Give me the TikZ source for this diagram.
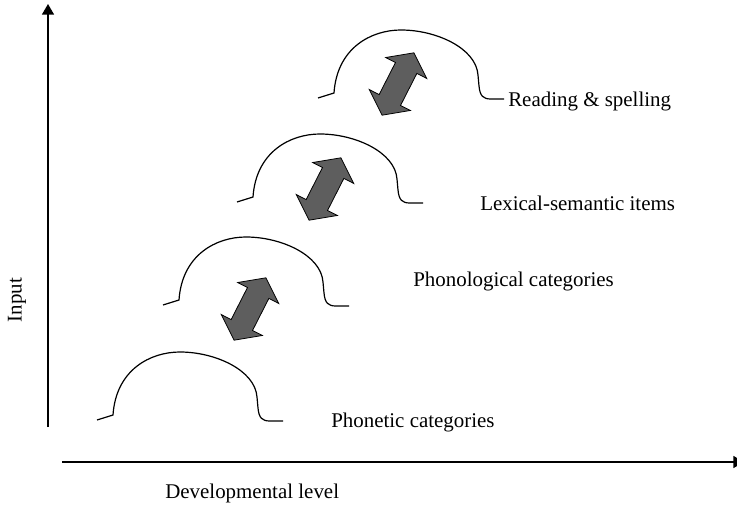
\documentclass[tikz,border=0pt]{standalone}
\usepackage{fontspec}
\setmainfont{Liberation Serif}
\usetikzlibrary{arrows.meta,calc}
\definecolor{ArrowClr}{rgb}{0.37,0.37,0.37}

\tikzset{
  hump/.pic={
    \draw[line width=0.9pt] (0,0) -- (16,-5) .. controls (19,-50) and (53,-68) .. (83,-68)
      .. controls (118,-68) and (158,-50) .. (160,-23) -- (161,-12)
      .. controls (162,-2) and (165,1) .. (173,1) -- (186,1);
  },
  twoway/.pic={
    \filldraw[fill=ArrowClr,line width=0.6pt,line join=miter]
      (0,-35) -- (23,-18) -- (12,-18) -- (12,18) -- (23,18) -- (0,35)
      -- (-23,18) -- (-12,18) -- (-12,-18) -- (-23,-18) -- cycle;
  },
  lbl/.style={font=\fontsize{15.7}{18}\selectfont,anchor=west,inner sep=0pt}
}

\begin{document}
\begin{tikzpicture}[x=0.75pt,y=-0.75pt]
\useasboundingbox (0,0) rectangle (737,509);

% Step 1.
\coordinate (O1) at (48,427);
\coordinate (Y) at (48,4);
\coordinate (O2) at (62,462);
\coordinate (X) at (744,462);
\draw[line width=1.1pt,-{Triangle[length=8pt,width=9pt]}] (O1) -- (Y);
\draw[line width=1.1pt,-{Triangle[length=8pt,width=9pt]}] (O2) -- (X);

% Step 2.
\pic at (97,420) {hump};
\pic at (163,305) {hump};
\pic at (237,202) {hump};
\pic at (318,98) {hump};

% Step 3.
\pic[rotate=-27] at (250,309) {twoway};
\pic[rotate=-27] at (325,189) {twoway};
\pic[rotate=-27] at (398,84) {twoway};

% Step 4.
\node[lbl] (rs) at (508,101) {Reading \& spelling};
\node[lbl] (ls) at (480,203) {Lexical-semantic items};
\node[lbl] (pc) at (413,281) {Phonological categories};
\node[lbl] (ph) at (331,422) {Phonetic categories};
\node[lbl] (dl) at (165,493) {Developmental level};
\node[lbl,anchor=center,rotate=90] (in) at (17,300) {Input};

\end{tikzpicture}
\end{document}
